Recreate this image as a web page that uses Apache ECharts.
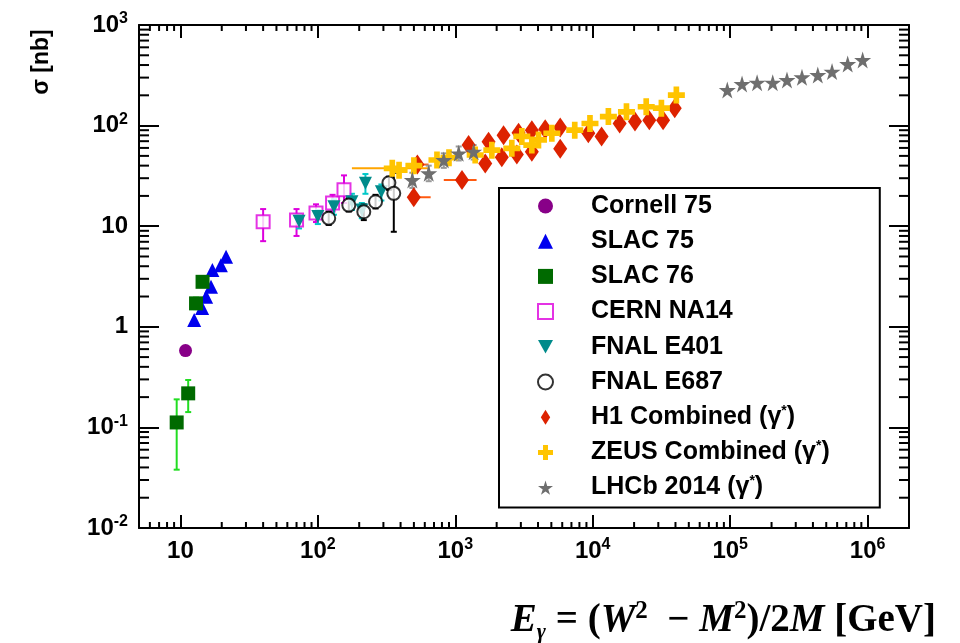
<!DOCTYPE html>
<html>
<head>
<meta charset="utf-8">
<script src="https://cdn.jsdelivr.net/npm/echarts@6/dist/echarts.min.js"></script>
<style>html,body{margin:0;padding:0;background:#fff}#c{width:960px;height:643px}</style>
</head>
<body>
<div id="c"></div>
<script>
// ---- data: [E_gamma (GeV), sigma (nb), sigmaLow, sigmaHigh, ELow, EHigh] ----
const cornell75 = [[10.9, 0.58]];
const slac75 = [[12.6,1.17],[14.4,1.54],[15.4,1.99],[16.7,2.5],[17.1,3.67],[19.7,4.1],[21.5,4.97]];
const slac76 = [[9.4,0.112,0.038,0.19],[11.4,0.218,0.142,0.296],[13.0,1.71,1.5,1.95],[14.5,2.8,2.5,3.15]];
const cernNA14 = [[40,11.1,7.1,14.8],[70,11.5,8.0,14.8],[97,13.5,11.0,16.5],[128,17,14,20.5],[155,23,17,32]];
const fnalE401 = [[73,11.2,9.5,13],[100,12.5,10.5,14.5],[131,15.6,13,18.5],[177,17.5,14.5,21],[209,14.5,12,17],[222,26.7,21,33],[290,22,18,26]];
const fnalE687 = [[120,12,10.3,14],[168,16.2,14,19],[216,13.9,11.5,16.5],[263,17.5,15,20.5],[329,27,23,31],[357,21.2,8.8,34]];
const h1Combined = [[499,19.4,null,null,452,662],[530,41,null,null,440,640],[1119,28.8,null,null,825,1429],[1250,64],[1652,42],[1746,69],[2180,48.5],[2245,80],[2805,51.5],[2886,85],[3605,55],[3605,90],[4510,92],[5800,59],[5800,96],[9290,84],[11600,78],[15700,105],[20300,110],[25800,113],[32500,113],[39500,149]];
const zeusCombined = [[348,37.6,null,null,177,641],[390,36],[500,40],[736,45.5],[900,48],[1396,51],[1845,57],[2578,59.4],[3050,78],[3605,64],[4030,72],[5040,84],[7400,90],[9550,105],[13000,123],[17600,137],[24500,154],[31600,149],[40600,201]];
const lhcb2014 = [[487,28.8,24,34],[641,33.6,28,40],[825,45.5,38,53],[1059,53,45,62],[1360,55,46,64],[95300,226],[122000,259],[157000,267],[204000,267],[259000,284],[333000,302],[434000,318],[551000,344],[716000,409],[920000,449]];

const seriesNames = ['Cornell 75','SLAC 75','SLAC 76','CERN NA14','FNAL E401','FNAL E687','H1 Combined (γ*)','ZEUS Combined (γ*)','LHCb 2014 (γ*)'];
const xRange = [5, 2e6];
const yRange = [0.01, 1000];
const minorMultipliers = [2,3,4,5,6,7,8,9];

const FONT = '"Liberation Sans", Arial, Helvetica, sans-serif';
const SERIF = '"Liberation Serif", "Times New Roman", serif';

const PLUS = 'path://M4,0H8V4H12V8H8V12H4V8H0V4H4Z';
const STAR = 'path://M50,0L61,35L98,35L68,57L79,91L50,70L21,91L32,57L2,35L39,35Z';
const TALLDIAMOND = 'path://M5,0L10,8L5,16L0,8Z';
const DOWNTRI = 'path://M0,0L10,0L5,9Z';

function minorValues(range) {
  const out = [];
  const k0 = Math.floor(Math.log10(range[0])), k1 = Math.ceil(Math.log10(range[1]));
  for (let k = k0; k <= k1; k++) {
    for (const m of minorMultipliers) {
      const v = m * Math.pow(10, k);
      if (v > range[0] && v < range[1]) out.push(v);
    }
  }
  return out;
}

function logLabel(v) {
  const l = Math.log10(v);
  const e = Math.round(l);
  if (Math.abs(l - e) > 1e-6) return '';
  if (e === 0) return '1';
  if (e === 1) return '10';
  return '10{s|' + e + '}';
}

function scatter(name, data, symbol, size, color, extra) {
  return Object.assign({
    name, type: 'scatter', data: data.map(p => [p[0], p[1]]),
    symbol, symbolSize: size, z: 4,
    itemStyle: { color: color, opacity: 1 },
    emphasis: { disabled: true }
  }, extra || {});
}

function errorBars(data, color) {
  const d = data.map(p => [p[0], p[1],
    p[2] == null ? p[1] : p[2], p[3] == null ? p[1] : p[3],
    p[4] == null ? p[0] : p[4], p[5] == null ? p[0] : p[5]]);
  return {
    type: 'custom', data: d, z: 3, silent: true,
    encode: { x: 0, y: 1 },
    renderItem: function (params, api) {
      const x = api.value(0), y = api.value(1);
      const children = [];
      const st = { stroke: color, lineWidth: 2 };
      if (api.value(2) !== y || api.value(3) !== y) {
        const a = api.coord([x, api.value(2)]), b = api.coord([x, api.value(3)]);
        children.push({ type: 'line', shape: { x1: a[0], y1: a[1], x2: b[0], y2: b[1] }, style: st });
        children.push({ type: 'line', shape: { x1: a[0] - 3, y1: a[1], x2: a[0] + 3, y2: a[1] }, style: st });
        children.push({ type: 'line', shape: { x1: b[0] - 3, y1: b[1], x2: b[0] + 3, y2: b[1] }, style: st });
      }
      if (api.value(4) !== x || api.value(5) !== x) {
        const a = api.coord([api.value(4), y]), b = api.coord([api.value(5), y]);
        children.push({ type: 'line', shape: { x1: a[0], y1: a[1], x2: b[0], y2: b[1] }, style: st });
      }
      return { type: 'group', children };
    }
  };
}

const tickStyle = { stroke: '#000', lineWidth: 2 };
const minorX = {
  type: 'custom', silent: true, z: 5, clip: false,
  data: minorValues(xRange).map(v => [v, 1]), encode: { x: 0, y: 1 },
  renderItem: function (params, api) {
    const p = api.coord([api.value(0), 1]);
    const cs = params.coordSys;
    const b = cs.y + cs.height, t = cs.y;
    return { type: 'group', children: [
      { type: 'line', shape: { x1: p[0], y1: b, x2: p[0], y2: b - 6 }, style: tickStyle },
      { type: 'line', shape: { x1: p[0], y1: t, x2: p[0], y2: t + 6 }, style: tickStyle }
    ] };
  }
};
const minorY = {
  type: 'custom', silent: true, z: 5, clip: false,
  data: minorValues(yRange).map(v => [100, v]), encode: { x: 0, y: 1 },
  renderItem: function (params, api) {
    const p = api.coord([100, api.value(1)]);
    const cs = params.coordSys;
    const l = cs.x, r = cs.x + cs.width;
    return { type: 'group', children: [
      { type: 'line', shape: { x1: l, y1: p[1], x2: l + 10, y2: p[1] }, style: tickStyle },
      { type: 'line', shape: { x1: r, y1: p[1], x2: r - 10, y2: p[1] }, style: tickStyle }
    ] };
  }
};

const labelRich = { s: { fontSize: 16, fontWeight: 'bold', fontFamily: FONT, color: '#000', verticalAlign: 'top', lineHeight: 15 } };
function axisCommon(pos, isX, showLabel) {
  const range = isX ? xRange : yRange;
  return {
    type: 'log', logBase: 10, min: range[0], max: range[1], position: pos,
    axisLine: { show: true, lineStyle: { color: '#000', width: 2 } },
    axisTick: { show: true, inside: true, length: isX ? 13 : 20, lineStyle: { color: '#000', width: 2 } },
    splitLine: { show: false },
    minorTick: { show: false },
    axisLabel: {
      show: showLabel, interval: 0, formatter: logLabel, margin: isX ? 9 : 11,
      fontSize: 24, fontWeight: 'bold', fontFamily: FONT, color: '#000', lineHeight: 28,
      rich: labelRich, showMinLabel: true, showMaxLabel: true
    }
  };
}

const chart = echarts.init(document.getElementById('c'), null, { renderer: 'canvas' });
chart.setOption({
  animation: false,
  backgroundColor: '#fff',
  grid: { left: 139, right: 51, top: 25, bottom: 115 },
  xAxis: [axisCommon('bottom', true, true), axisCommon('top', true, false)],
  yAxis: [axisCommon('left', false, true), axisCommon('right', false, false)],
  legend: {
    data: seriesNames.map(n => n.startsWith('H1') ? { name: n, icon: TALLDIAMOND } : n),
    orient: 'vertical', left: 499, top: 188,
    itemWidth: 15, itemHeight: 15, itemGap: 9.2,
    padding: [5, 50, 7, 38],
    borderColor: '#000', borderWidth: 2, backgroundColor: '#fff',
    selectedMode: false, z: 10,
    formatter: n => n.replace('*', '{s|*}'),
    textStyle: {
      fontSize: 25, fontWeight: 'bold', fontFamily: FONT, color: '#000', lineHeight: 26,
      padding: [0, 0, 0, 33],
      rich: { s: { fontSize: 14, fontWeight: 'bold', fontFamily: FONT, verticalAlign: 'top', lineHeight: 12 } }
    }
  },
  graphic: [
    { type: 'text', x: 42, y: 62, rotation: Math.PI / 2, z: 20,
      style: { text: 'σ [nb]', fontSize: 23, fontWeight: 'bold', fontFamily: FONT, fill: '#000', align: 'center', verticalAlign: 'middle' } },
    { type: 'text', x: 936, y: 621, z: 20,
      style: {
        text: '{i|E}{sub|γ}{r| = (}{i|W}{sup|2}{r|  − }{i|M}{sup|2}{r|)/2}{i|M}{r| [GeV]}',
        align: 'right', verticalAlign: 'middle', fill: '#000',
        rich: {
          i: { fontFamily: SERIF, fontSize: 39, fontWeight: 'bold', fontStyle: 'italic', lineHeight: 44 },
          r: { fontFamily: SERIF, fontSize: 39, fontWeight: 'bold', lineHeight: 44 },
          sup: { fontFamily: SERIF, fontSize: 25, fontWeight: 'bold', verticalAlign: 'top', lineHeight: 32 },
          sub: { fontFamily: SERIF, fontSize: 22, fontWeight: 'bold', fontStyle: 'italic', verticalAlign: 'bottom', lineHeight: 22 }
        }
      } }
  ],
  series: [
    minorX, minorY,
    errorBars(slac76, '#22dd22'),
    errorBars(cernNA14, '#dd00dd'),
    errorBars(fnalE401, '#00c8c8'),
    errorBars(fnalE687, '#000000'),
    errorBars(h1Combined, '#ff5a10'),
    errorBars(zeusCombined, '#ffa500'),
    errorBars(lhcb2014, '#999999'),
    scatter('Cornell 75', cornell75, 'circle', 13, '#880088'),
    scatter('SLAC 75', slac75, 'triangle', 14, '#0000ee'),
    scatter('SLAC 76', slac76, 'rect', 14, '#006a00'),
    scatter('CERN NA14', cernNA14, 'emptyRect', 13, '#dd00dd', { itemStyle: { color: '#dd00dd', borderWidth: 2 } }),
    scatter('FNAL E401', fnalE401, DOWNTRI, 13, '#008b8b'),
    scatter('FNAL E687', fnalE687, 'emptyCircle', 13, '#000000', { itemStyle: { color: '#000', borderWidth: 2 } }),
    scatter('H1 Combined (γ*)', h1Combined, TALLDIAMOND, [14, 20], '#dd2200'),
    scatter('ZEUS Combined (γ*)', zeusCombined, PLUS, 17, '#ffc400'),
    scatter('LHCb 2014 (γ*)', lhcb2014, STAR, 17, '#6e6e6e')
  ]
});
</script>
</body>
</html>
